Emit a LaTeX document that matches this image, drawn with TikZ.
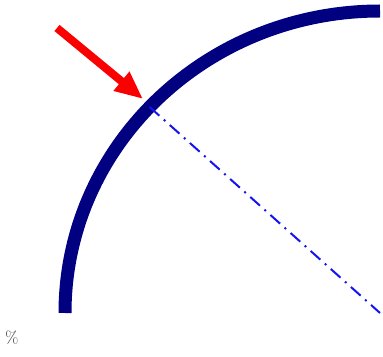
\documentclass[tikz,border=0pt]{standalone}
\usepackage{tikz}
\usetikzlibrary{arrows.meta}
\usetikzlibrary{calc}
\usepackage{xcolor}

\definecolor{arcnavy}{RGB}{0,0,128}
\definecolor{radblue}{RGB}{20,20,240}
\definecolor{markred}{RGB}{250,0,0}

\begin{document}
\begin{tikzpicture}[scale=0.05,
		rim/.style={line width=0.65cm, arcnavy},
		radius line/.style={line width=0.1cm, radblue, dash pattern=on 0.65cm off 0.3cm on 0.1cm off 0.3cm},
		pointer/.style={line width=0.4cm, markred, -{Triangle[length=1.4cm,width=1.15cm]}}]
			
			\useasboundingbox (0,0) rectangle (383,356);
			
			% centre and point on the rim
			\coordinate (O) at (380,43);
			\coordinate (P) at ($(O)+(137:315 and 302)$);
			
			% quarter arc
			\draw[rim] (65,43) arc[start angle=180, end angle=90, x radius=315, y radius=302];
			
			% radius, dash-dot
			\draw[radius line] (P) -- (O);
			
			% red arrow
			\coordinate (tail) at (57,328);
			\coordinate (tip) at (143,257);
			\draw[pointer] (tail) -- (tip);
			
			% mark bottom left
			\node[black!80, font=\fontsize{24}{24}\selectfont] (mark) at (12,18) {\%};
			
		\end{tikzpicture}
\end{document}
